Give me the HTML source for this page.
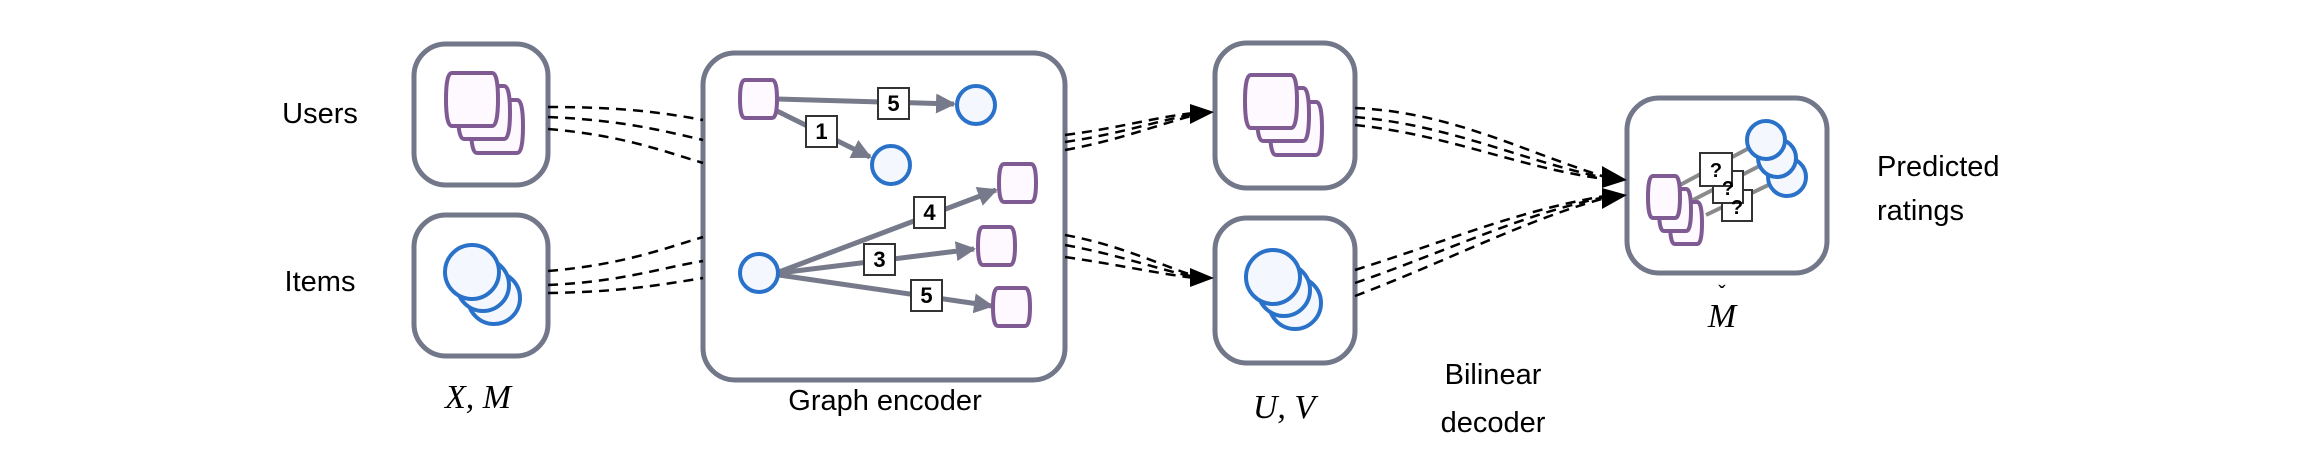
<!DOCTYPE html>
<html><head><style>
html,body{margin:0;padding:0;background:#fff;}
svg{display:block}
.t{font-family:"Liberation Sans",sans-serif;fill:#000;}
.m{font-family:"Liberation Serif",serif;font-style:italic;fill:#000;}
</style></head><body>
<svg width="2298" height="456" viewBox="0 0 2298 456" xmlns="http://www.w3.org/2000/svg">
<defs>
<marker id="ga" viewBox="0 0 10 10" markerWidth="4" markerHeight="4" refX="9" refY="5" orient="auto" markerUnits="strokeWidth">
<path d="M0,0 L10,5 L0,10 Z" fill="#767a8a"/></marker>
</defs>
<g fill="none" stroke="#73778a" stroke-width="5">
<rect x="414" y="44" width="134" height="141" rx="32"/>
<rect x="414" y="215" width="134" height="141" rx="32"/>
<rect x="703" y="53" width="362" height="327" rx="32"/>
<rect x="1215" y="43" width="140" height="145" rx="32"/>
<rect x="1215" y="218" width="140" height="145" rx="32"/>
<rect x="1627" y="98" width="200" height="175" rx="32"/>
</g>
<text class="t" x="320" y="123" font-size="29" text-anchor="middle">Users</text>
<text class="t" x="320" y="291" font-size="29" text-anchor="middle">Items</text>
<text class="m" x="478" y="408" font-size="34" text-anchor="middle">X, M</text>
<text class="t" x="885" y="410" font-size="29" text-anchor="middle">Graph encoder</text>
<text class="m" x="1284" y="418" font-size="34" text-anchor="middle">U, V</text>
<text class="t" x="1493" y="384" font-size="29" text-anchor="middle">Bilinear</text>
<text class="t" x="1493" y="432" font-size="29" text-anchor="middle">decoder</text>
<text class="m" x="1722" y="327" font-size="34" text-anchor="middle">M</text>
<text class="t" x="1722" y="301" font-size="22" text-anchor="middle">ˇ</text>
<text class="t" x="1877" y="176" font-size="29">Predicted</text>
<text class="t" x="1877" y="220" font-size="29">ratings</text>
<g stroke="#7f5a93" stroke-width="4" fill="#fdf9fe">
<path d="M477,100 h40 q6,0 6,26 q0,27 -6,27 h-40 q-6,0 -6,-27 q0,-26 6,-26z"/>
<path d="M464,86 h40 q6,0 6,26 q0,27 -6,27 h-40 q-6,0 -6,-27 q0,-26 6,-26z"/>
<path d="M452,73 h40 q6,0 6,26 q0,27 -6,27 h-40 q-6,0 -6,-27 q0,-26 6,-26z"/>
</g>
<g stroke="#2a72c9" stroke-width="4" fill="#f4f8fe">
<circle cx="494" cy="298" r="26"/><circle cx="483" cy="285" r="26"/><circle cx="472" cy="272" r="27"/>
</g>
<g stroke="#7f5a93" stroke-width="4" fill="#fdf9fe">
<path d="M1276,102 h40 q6,0 6,26 q0,27 -6,27 h-40 q-6,0 -6,-27 q0,-26 6,-26z"/>
<path d="M1263,88 h40 q6,0 6,26 q0,27 -6,27 h-40 q-6,0 -6,-27 q0,-26 6,-26z"/>
<path d="M1251,75 h40 q6,0 6,26 q0,27 -6,27 h-40 q-6,0 -6,-27 q0,-26 6,-26z"/>
</g>
<g stroke="#2a72c9" stroke-width="4" fill="#f4f8fe">
<circle cx="1295" cy="303" r="26"/><circle cx="1284" cy="290" r="26"/><circle cx="1273" cy="277" r="27"/>
</g>
<g fill="none" stroke="#000" stroke-width="2.5" stroke-dasharray="10,7">
<path d="M548,107 C620,107 660,112 703,120"/>
<path d="M548,117 C620,120 660,130 703,140"/>
<path d="M548,129 C620,135 660,150 703,163"/>
<path d="M548,271 C620,265 660,250 703,237"/>
<path d="M548,285 C620,282 660,268 703,261"/>
<path d="M548,293 C620,292 660,285 703,278"/>
<path d="M1065,135 C1120,128 1160,116 1195,113"/>
<path d="M1065,142 C1120,134 1160,120 1195,114"/>
<path d="M1065,150 C1120,140 1160,124 1195,115"/>
<path d="M1065,235 C1120,245 1160,265 1195,276"/>
<path d="M1065,245 C1120,255 1160,270 1195,277"/>
<path d="M1065,257 C1120,265 1160,274 1195,278"/>
<path d="M1355,108 C1450,112 1520,150 1605,177"/>
<path d="M1355,117 C1450,125 1520,160 1605,178"/>
<path d="M1355,125 C1450,135 1520,168 1605,179"/>
<path d="M1355,270 C1450,240 1520,210 1605,196"/>
<path d="M1355,283 C1450,250 1520,215 1605,197"/>
<path d="M1355,296 C1450,260 1520,222 1605,198"/>
</g>
<path d="M1190,104 L1214,112 L1190,124 Z" fill="#000"/>
<path d="M1190,268 L1214,278 L1190,287 Z" fill="#000"/>
<path d="M1602,166 L1627,180 L1602,188 Z" fill="#000"/>
<path d="M1602,188 L1627,195 L1602,209 Z" fill="#000"/>
<g stroke="#767a8a" stroke-width="5" fill="none" marker-end="url(#ga)">
<line x1="777" y1="99" x2="954" y2="104"/>
<line x1="775" y1="110" x2="870" y2="157"/>
<line x1="779" y1="272" x2="996" y2="190"/>
<line x1="779" y1="273" x2="974" y2="249"/>
<line x1="779" y1="275" x2="992" y2="306"/>
</g>
<g stroke="#7f5a93" stroke-width="4" fill="#fdf9fe">
<path d="M745,80 h27 q5,0 5,19 q0,19 -5,19 h-27 q-5,0 -5,-19 q0,-19 5,-19z"/>
<path d="M1004,164 h27 q5,0 5,19 q0,19 -5,19 h-27 q-5,0 -5,-19 q0,-19 5,-19z"/>
<path d="M983,227 h27 q5,0 5,19 q0,19 -5,19 h-27 q-5,0 -5,-19 q0,-19 5,-19z"/>
<path d="M998,288 h27 q5,0 5,19 q0,19 -5,19 h-27 q-5,0 -5,-19 q0,-19 5,-19z"/>
</g>
<g stroke="#2a72c9" stroke-width="4" fill="#f4f8fe">
<circle cx="976" cy="105" r="19"/><circle cx="891" cy="165" r="19"/><circle cx="759" cy="273" r="19"/>
</g>
<g stroke="#333" stroke-width="2" fill="#fff">
<rect x="878" y="88" width="31" height="31"/><rect x="806" y="116" width="31" height="31"/>
<rect x="914" y="197" width="31" height="31"/><rect x="864" y="244" width="31" height="31"/>
<rect x="911" y="280" width="31" height="31"/>
</g>
<g class="t" font-size="22" font-weight="bold" text-anchor="middle">
<text x="893.5" y="111">5</text><text x="821.5" y="139">1</text>
<text x="929.5" y="220">4</text><text x="879.5" y="267">3</text><text x="926.5" y="303">5</text>
</g>
<g stroke="#8a8a8a" stroke-width="4">
<line x1="1680" y1="185" x2="1766" y2="139"/>
<line x1="1693" y1="200" x2="1777" y2="157"/>
<line x1="1706" y1="215" x2="1787" y2="176"/>
</g>
<g stroke="#7f5a93" stroke-width="4" fill="#fdf9fe">
<path d="M1675,202 h22 q5,0 5,21 q0,21 -5,21 h-22 q-5,0 -5,-21 q0,-21 5,-21z"/>
<path d="M1664,189 h22 q5,0 5,21 q0,21 -5,21 h-22 q-5,0 -5,-21 q0,-21 5,-21z"/>
<path d="M1653,176 h22 q5,0 5,21 q0,21 -5,21 h-22 q-5,0 -5,-21 q0,-21 5,-21z"/>
</g>
<g stroke="#2a72c9" stroke-width="4" fill="#f4f8fe">
<circle cx="1787" cy="177" r="19"/><circle cx="1777" cy="158" r="19"/><circle cx="1766" cy="140" r="19"/>
</g>
<g stroke="#333" stroke-width="2" fill="#fff">
<rect x="1722" y="190" width="30" height="31"/><rect x="1713" y="171" width="30" height="32"/><rect x="1700" y="153" width="32" height="33"/>
</g>
<g class="t" font-size="20" font-weight="bold" text-anchor="middle">
<text x="1737" y="214">?</text><text x="1728" y="195">?</text><text x="1716" y="177">?</text>
</g>
</svg>
</body></html>
